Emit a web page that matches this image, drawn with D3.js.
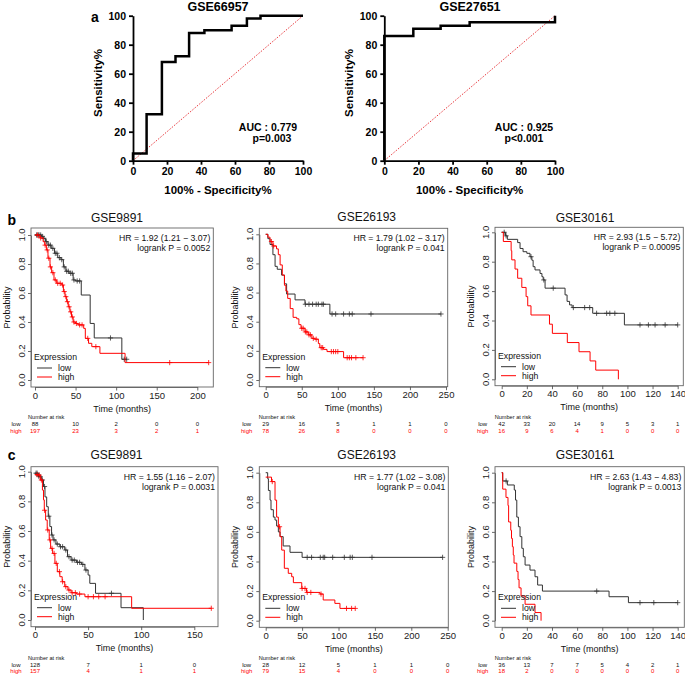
<!DOCTYPE html>
<html><head><meta charset="utf-8">
<script src="https://cdn.jsdelivr.net/npm/d3@7"></script>
<style>body{margin:0;background:#fff;} svg{display:block;font-family:"Liberation Sans",Arial,sans-serif;}</style>
</head><body><svg id="c" width="685" height="675"></svg>
<script>
// ---------------- DATA ----------------
const rocTitles = ["GSE66957", "GSE27651"];
const rocTicks = [0, 20, 40, 60, 80, 100];
const roc1FPR = [0, 0, 8, 8, 17, 17, 25, 25, 33, 33, 42, 42, 58, 58, 67, 67, 75, 75, 100];
const roc1TPR = [0, 5, 5, 32, 32, 68, 68, 72, 72, 88, 88, 90, 90, 93, 93, 98, 98, 100, 100];
const roc2FPR = [0, 0, 17, 17, 33, 33, 50, 50, 100, 100];
const roc2TPR = [0, 86, 86, 91, 91, 93, 93, 95.5, 95.5, 100];
const rocAUC = ["AUC : 0.779", "AUC : 0.925"];
const rocP = ["p=0.003", "p<0.001"];

const kmTitles = ["GSE9891", "GSE26193", "GSE30161", "GSE9891", "GSE26193", "GSE30161"];
const kmHR = ["HR = 1.92 (1.21 \u2212 3.07)", "HR = 1.79 (1.02 \u2212 3.17)", "HR = 2.93 (1.5 \u2212 5.72)",
              "HR = 1.55 (1.16 \u2212 2.07)", "HR = 1.77 (1.02 \u2212 3.08)", "HR = 2.63 (1.43 \u2212 4.83)"];
const kmP = ["logrank P = 0.0052", "logrank P = 0.041", "logrank P = 0.00095",
             "logrank P = 0.0031", "logrank P = 0.041", "logrank P = 0.0013"];
const probTicks = [0, 0.2, 0.4, 0.6, 0.8, 1.0];
const timeTicks250 = [0, 50, 100, 150, 200, 250];
const timeTicks200 = [0, 50, 100, 150, 200];
const timeTicks150 = [0, 50, 100, 150];
const timeTicks140 = [0, 20, 40, 60, 80, 100, 120, 140];
const groups = ["low", "high"];

// b: GSE9891
const b1LowT = [0, 8, 10, 13, 16, 20, 24, 28, 32, 35, 38, 42, 47, 50, 57, 68, 73, 107];
const b1LowS = [1, 0.99, 0.977, 0.954, 0.93, 0.908, 0.874, 0.844, 0.83, 0.78, 0.75, 0.736, 0.69, 0.683, 0.586, 0.39, 0.29, 0.143];
const b1LowC = [2, 4, 5, 7, 9, 11, 14, 17, 19, 22, 25, 27, 30, 33, 36, 39, 41, 44, 46, 48, 52, 55, 93, 110, 113];
const b1HighT = [0, 6, 10, 12, 14, 16, 18.5, 20.5, 23.4, 26.7, 33, 35, 37, 39, 41, 43, 45, 47, 50, 53, 60, 62, 66, 70, 80, 111];
const b1HighS = [1, 0.98, 0.954, 0.93, 0.897, 0.84, 0.78, 0.74, 0.69, 0.667, 0.655, 0.61, 0.575, 0.54, 0.505, 0.47, 0.435, 0.40, 0.39, 0.38, 0.356, 0.287, 0.253, 0.23, 0.184, 0.12];
const b1HighC = [3, 7, 12.5, 15, 17, 19, 22, 25, 28, 31, 34, 36, 38, 40, 42, 44, 46, 48, 51, 55, 58, 65, 75, 166, 214];
const b1RiskLow = [88, 10, 2, 0, 0];
const b1RiskHigh = [197, 23, 3, 2, 1];

// b: GSE26193
const b2LowT = [0, 3, 6, 10, 13, 16, 22, 26, 29, 40.7, 54.5, 89];
const b2LowS = [1, 0.97, 0.93, 0.86, 0.78, 0.76, 0.72, 0.66, 0.59, 0.55, 0.52, 0.453];
const b2LowC = [55, 60, 65, 70, 73, 78, 80, 92, 97, 108, 116, 120, 146, 243];
const b2HighT = [0, 3, 6, 10, 15, 17.5, 20, 23, 26, 28, 30.5, 34, 38, 43, 46, 49, 54.5, 59, 64, 68, 73, 75, 80, 85, 108];
const b2HighS = [1, 0.98, 0.95, 0.92, 0.9, 0.86, 0.79, 0.72, 0.65, 0.61, 0.56, 0.49, 0.43, 0.42, 0.38, 0.355, 0.33, 0.31, 0.286, 0.28, 0.25, 0.222, 0.21, 0.195, 0.153];
const b2HighC = [8, 11, 50, 52, 55, 57, 60, 62, 66, 70, 77, 79, 91, 94, 97, 100, 113, 116, 119, 125, 135];
const b2RiskLow = [29, 16, 5, 1, 1, 0];
const b2RiskHigh = [78, 26, 8, 0, 0, 0];

// b: GSE30161
const b3LowT = [0, 3, 4.5, 12.7, 14.6, 17, 20, 22.5, 24, 25, 26.5, 30.5, 32, 33, 34.5, 50.4, 52, 54, 56, 72.4, 97.6];
const b3LowS = [1, 0.976, 0.952, 0.93, 0.89, 0.868, 0.857, 0.834, 0.81, 0.766, 0.744, 0.72, 0.698, 0.676, 0.62, 0.574, 0.53, 0.506, 0.488, 0.449, 0.37];
const b3LowC = [2, 3.5, 23.3, 33.5, 41, 57, 66, 70, 75.5, 83.5, 86, 90, 110, 116.7, 122, 130, 140];
const b3HighT = [0, 1.3, 7.5, 8, 10.6, 12.7, 16, 19.4, 20.7, 23.3, 38, 40.3, 52.2, 61.5, 70.3, 74.8, 92.8];
const b3HighS = [1, 0.9375, 0.875, 0.8125, 0.75, 0.6875, 0.625, 0.5625, 0.5, 0.4375, 0.375, 0.3125, 0.25, 0.1875, 0.125, 0.0625, 0];
const b3HighC = [];
const b3RiskLow = [42, 33, 20, 14, 9, 5, 3, 1];
const b3RiskHigh = [16, 9, 6, 4, 1, 0, 0, 0];

// c: GSE9891
const c1LowT = [0, 3, 4.7, 6, 8, 9.4, 11, 12.5, 14, 15.6, 17, 19.7, 23.4, 28, 30.6, 34, 39, 43.7, 47, 50, 51.6, 57, 81, 102];
const c1LowS = [0.99, 0.97, 0.966, 0.944, 0.9, 0.83, 0.764, 0.7, 0.63, 0.573, 0.54, 0.512, 0.494, 0.472, 0.427, 0.404, 0.389, 0.375, 0.337, 0.303, 0.247, 0.18, 0.083, 0];
const c1LowC = [1, 2, 3.5, 5, 7, 9, 13, 16, 18, 21, 24, 26, 29, 32, 35, 37, 40, 42, 45, 48, 72];
const c1HighT = [0, 3, 5, 7, 8, 8.75, 10, 11.5, 13.4, 14.7, 16.6, 18.75, 21, 23.4, 25.6, 28, 31, 34, 39, 47, 91];
const c1HighS = [0.98, 0.977, 0.944, 0.876, 0.81, 0.74, 0.674, 0.607, 0.54, 0.483, 0.449, 0.382, 0.326, 0.292, 0.258, 0.225, 0.202, 0.184, 0.175, 0.157, 0.079];
const c1HighC = [2, 4, 6, 9, 12, 14, 16, 18, 20, 23, 26, 29, 32, 35, 38, 42, 50, 55, 60, 66, 166];
const c1RiskLow = [128, 7, 1, 0];
const c1RiskHigh = [157, 4, 1, 1];

// c: GSE26193
const c2LowT = [0, 2.7, 3.7, 6, 7.3, 10.5, 12.8, 15, 17.4, 19.7, 24, 33.4, 50];
const c2LowS = [1, 0.96, 0.88, 0.815, 0.75, 0.70, 0.68, 0.64, 0.60, 0.568, 0.505, 0.462, 0.428];
const c2LowC = [57, 63, 75, 79, 81, 92, 108, 116, 119, 146, 243];
const c2HighT = [0, 8, 12.8, 15, 17.4, 19.7, 22, 25.6, 31, 35.7, 38, 49.5, 56, 74.6, 79, 95, 102];
const c2HighS = [0.97, 0.94, 0.815, 0.70, 0.635, 0.568, 0.477, 0.354, 0.32, 0.297, 0.257, 0.218, 0.191, 0.18, 0.14, 0.117, 0.083];
const c2HighC = [9, 19, 50, 54, 57, 62, 76, 111, 118, 123];
const c2RiskLow = [28, 12, 5, 1, 1, 0];
const c2RiskHigh = [79, 15, 4, 0, 0, 0];

// c: GSE30161
const c3LowT = [0, 0.8, 4.5, 10, 11, 12, 13.3, 14.6, 16, 17.2, 18.6, 22.5, 26.5, 28.6, 32.4, 85.4, 100.8];
const c3LowS = [1, 0.944, 0.917, 0.883, 0.815, 0.70, 0.635, 0.568, 0.489, 0.432, 0.376, 0.342, 0.297, 0.241, 0.2, 0.162, 0.122];
const c3LowC = [3.5, 75.6, 110, 121, 140];
const c3HighT = [0, 0.8, 3.4, 5, 5.5, 7.2, 7.8, 8.5, 9.2, 9.8, 12, 13, 13.8, 15.4, 18.6, 26.5, 31.3];
const c3HighS = [1, 0.889, 0.833, 0.778, 0.667, 0.611, 0.556, 0.5, 0.444, 0.389, 0.333, 0.278, 0.222, 0.167, 0.111, 0.055, 0];
const c3HighC = [];
const c3RiskLow = [36, 13, 7, 7, 5, 4, 2, 1];
const c3RiskHigh = [18, 2, 0, 0, 0, 0, 0, 0];

// ---------------- LAYOUT ----------------
const svg = d3.select("#c");
const COL_LOW = "#333", COL_HIGH = "#ff0000";

const rocLayout = [
  {x0: 133, x1: 303, y0: 160.7, y1: 15.7, titleX: 218, aucX: 268, pX: 272},
  {x0: 384.3, x1: 555, y0: 160.7, y1: 15.7, titleX: 470, aucX: 524, pX: 524}
];
const rocData = [[roc1FPR, roc1TPR], [roc2FPR, roc2TPR]];

rocLayout.forEach((L, i) => {
  const g = svg.append("g");
  const x = d3.scaleLinear().domain([0, 100]).range([L.x0, L.x1]);
  const y = d3.scaleLinear().domain([0, 100]).range([L.y0, L.y1]);
  // diagonal
  g.append("line").attr("x1", x(0)).attr("y1", y(0)).attr("x2", x(100)).attr("y2", y(100))
    .attr("stroke", "#e8383d").attr("stroke-width", 1).attr("stroke-dasharray", "1.5,1.5");
  // axes
  const ax = g.append("g").attr("transform", `translate(0,${L.y0})`)
    .call(d3.axisBottom(x).tickValues(rocTicks).tickSize(4).tickSizeOuter(0).tickPadding(3));
  const ay = g.append("g").attr("transform", `translate(${L.x0},0)`)
    .call(d3.axisLeft(y).tickValues(rocTicks).tickSize(4).tickSizeOuter(0).tickPadding(3));
  [ax, ay].forEach(a => {
    a.selectAll("path,line").attr("stroke", "#000").attr("stroke-width", 1.8);
    a.selectAll("text").attr("font-size", 10.5).attr("font-weight", "bold").attr("fill", "#000")
      .attr("font-family", "'Liberation Sans',Arial,sans-serif");
  });
  // curve
  const pts = rocData[i][0].map((v, k) => [v, rocData[i][1][k]]);
  g.append("path").attr("d", d3.line().x(d => x(d[0])).y(d => y(d[1]))(pts))
    .attr("fill", "none").attr("stroke", "#000").attr("stroke-width", 2.5).attr("stroke-linejoin", "miter");
  // title & labels
  g.append("text").attr("x", L.titleX).attr("y", 10.5).attr("text-anchor", "middle")
    .attr("font-size", 12.5).attr("font-weight", "bold").text(rocTitles[i]);
  g.append("text").attr("x", (L.x0 + L.x1) / 2).attr("y", 194).attr("text-anchor", "middle")
    .attr("font-size", 11.5).attr("font-weight", "bold").text("100% - Specificity%");
  g.append("text").attr("transform", `translate(${L.x0 - 31},83) rotate(-90)`).attr("text-anchor", "middle")
    .attr("font-size", 11.5).attr("font-weight", "bold").text("Sensitivity%");
  g.append("text").attr("x", L.aucX).attr("y", 130.5).attr("text-anchor", "middle")
    .attr("font-size", 10.5).attr("font-weight", "bold").text(rocAUC[i]);
  g.append("text").attr("x", L.pX).attr("y", 142).attr("text-anchor", "middle")
    .attr("font-size", 10.5).attr("font-weight", "bold").text(rocP[i]);
});
svg.append("text").attr("x", 95).attr("y", 22).attr("text-anchor", "middle")
  .attr("font-size", 14).attr("font-weight", "bold").text("a");
svg.append("text").attr("x", 11.7).attr("y", 225).attr("text-anchor", "middle")
  .attr("font-size", 14).attr("font-weight", "bold").text("b");
svg.append("text").attr("x", 11.7).attr("y", 460).attr("text-anchor", "middle")
  .attr("font-size", 14).attr("font-weight", "bold").text("c");

const kmLayout = [
  {box: [31, 213.3, 228, 387], x0: 35, x1: 197.3, y0: 380, y1: 235, tX: 117, tY: 218, risk: [416.5, 423.5, 431]},
  {box: [259.3, 447.7, 228.3, 386.7], x0: 265.7, x1: 446, y0: 380, y1: 234.3, tX: 366.7, tY: 217, risk: [416.5, 423.5, 431]},
  {box: [495, 683.3, 227.3, 385.7], x0: 501.7, x1: 677.7, y0: 379.3, y1: 232.3, tX: 585, tY: 218, risk: [416.5, 423.5, 431]},
  {box: [31, 218, 466.7, 626.7], x0: 35, x1: 194.3, y0: 620, y1: 471.7, tX: 116.5, tY: 455, risk: [657.5, 664.5, 671]},
  {box: [259.3, 448.3, 466.7, 627.3], x0: 265.7, x1: 447.7, y0: 620.7, y1: 472.7, tX: 366.7, tY: 455, risk: [657.5, 664.5, 671]},
  {box: [495, 684.3, 466.7, 627.3], x0: 501.7, x1: 677.7, y0: 620.7, y1: 472.7, tX: 585, tY: 455, risk: [657.5, 664.5, 671]}
];
const kmData = [
  {ticks: timeTicks200, low: [b1LowT, b1LowS, b1LowC], high: [b1HighT, b1HighS, b1HighC], risk: [b1RiskLow, b1RiskHigh]},
  {ticks: timeTicks250, low: [b2LowT, b2LowS, b2LowC], high: [b2HighT, b2HighS, b2HighC], risk: [b2RiskLow, b2RiskHigh]},
  {ticks: timeTicks140, low: [b3LowT, b3LowS, b3LowC], high: [b3HighT, b3HighS, b3HighC], risk: [b3RiskLow, b3RiskHigh]},
  {ticks: timeTicks150, low: [c1LowT, c1LowS, c1LowC], high: [c1HighT, c1HighS, c1HighC], risk: [c1RiskLow, c1RiskHigh]},
  {ticks: timeTicks250, low: [c2LowT, c2LowS, c2LowC], high: [c2HighT, c2HighS, c2HighC], risk: [c2RiskLow, c2RiskHigh]},
  {ticks: timeTicks140, low: [c3LowT, c3LowS, c3LowC], high: [c3HighT, c3HighS, c3HighC], risk: [c3RiskLow, c3RiskHigh]}
];

function survAt(T, S, t) {
  let s = S[0];
  for (let i = 0; i < T.length; i++) if (T[i] <= t) s = S[i];
  return s;
}

kmLayout.forEach((L, i) => {
  const D = kmData[i];
  const g = svg.append("g");
  const tMax = D.ticks[D.ticks.length - 1];
  const x = d3.scaleLinear().domain([0, tMax]).range([L.x0, L.x1]);
  const y = d3.scaleLinear().domain([0, 1]).range([L.y0, L.y1]);
  const [bl, br, bt, bb] = L.box;
  // x axis
  const ax = g.append("g").attr("transform", `translate(0,${bb})`)
    .call(d3.axisBottom(x).tickValues(D.ticks).tickSize(3.5).tickSizeOuter(0).tickPadding(1.5).tickFormat(d3.format("d")));
  ax.selectAll("path,line").attr("stroke", "#444").attr("stroke-width", 0.8);
  ax.selectAll("text").attr("font-size", 9.5).attr("fill", "#222").attr("font-family", "'Liberation Sans',Arial,sans-serif");
  // y axis
  const ay = g.append("g").attr("transform", `translate(${bl},0)`)
    .call(d3.axisLeft(y).tickValues(probTicks).tickSize(3).tickSizeOuter(0).tickFormat(""));
  ay.selectAll("path,line").attr("stroke", "#444").attr("stroke-width", 0.8);
  probTicks.forEach(v => {
    g.append("text").attr("transform", `translate(${bl - 6},${y(v)}) rotate(-90)`)
      .attr("text-anchor", "middle").attr("font-size", 9.5).attr("fill", "#222").text(d3.format(".1f")(v));
  });
  // box
  g.append("rect").attr("x", bl).attr("y", bt).attr("width", br - bl).attr("height", bb - bt)
    .attr("fill", "none").attr("stroke", "#666").attr("stroke-width", 0.9);
  // curves
  const line = d3.line().curve(d3.curveStepAfter).x(d => x(d[0])).y(d => y(d[1]));
  [["low", COL_LOW], ["high", COL_HIGH]].forEach(([k, col]) => {
    const [T, S, C] = D[k];
    const end = Math.max(T[T.length - 1], C.length ? C[C.length - 1] : 0);
    const pts = T.map((t, j) => [t, S[j]]);
    pts.push([end, S[S.length - 1]]);
    g.append("path").attr("d", line(pts)).attr("fill", "none").attr("stroke", col).attr("stroke-width", 1);
    C.forEach(t => {
      const cx = x(t), cy = y(survAt(T, S, t));
      g.append("path").attr("d", `M${cx},${cy - 2.6}V${cy + 2.6}M${cx - 2.6},${cy}H${cx + 2.6}`)
        .attr("stroke", col).attr("stroke-width", 0.8);
    });
  });
  // title
  g.append("text").attr("x", L.tX).attr("y", L.tY + 4.3).attr("text-anchor", "middle")
    .attr("font-size", 12).attr("fill", "#111").text(kmTitles[i]);
  // HR text
  g.append("text").attr("x", br - 3).attr("y", bt + 13).attr("text-anchor", "end")
    .attr("font-size", 8.7).attr("fill", "#111").text(kmHR[i]);
  g.append("text").attr("x", br - 3).attr("y", bt + 23).attr("text-anchor", "end")
    .attr("font-size", 8.7).attr("fill", "#111").text(kmP[i]);
  // legend
  g.append("text").attr("x", bl + 3).attr("y", bb - 27).attr("font-size", 8.7).attr("fill", "#111").text("Expression");
  [["low", COL_LOW, 19], ["high", COL_HIGH, 10]].forEach(([lab, col, off]) => {
    g.append("line").attr("x1", bl + 6).attr("x2", bl + 21).attr("y1", bb - off).attr("y2", bb - off)
      .attr("stroke", col).attr("stroke-width", 1);
    g.append("text").attr("x", bl + 27).attr("y", bb - off + 3).attr("font-size", 8.7).attr("fill", "#111").text(lab);
  });
  // axis titles
  g.append("text").attr("x", (bl + br) / 2).attr("y", bb + 24.5).attr("text-anchor", "middle")
    .attr("font-size", 9).attr("fill", "#111").text("Time (months)");
  g.append("text").attr("transform", `translate(${bl - 21},${(bt + bb) / 2}) rotate(-90)`)
    .attr("text-anchor", "middle").attr("font-size", 9).attr("fill", "#111").text("Probability");
  // number at risk
  g.append("text").attr("x", x(0) - 7).attr("y", L.risk[0] + 2).attr("font-size", 5.6).attr("fill", "#111").text("Number at risk");
  groups.forEach((grp, r) => {
    const col = r === 0 ? "#111" : COL_HIGH;
    g.append("text").attr("x", x(0) - 19).attr("y", L.risk[r + 1] + 2).attr("text-anchor", "middle")
      .attr("font-size", 6).attr("fill", col).text(grp);
    D.risk[r].forEach((v, j) => {
      g.append("text").attr("x", x(D.ticks[j])).attr("y", L.risk[r + 1] + 2).attr("text-anchor", "middle")
        .attr("font-size", 6).attr("fill", col).text(v);
    });
  });
});
</script></body></html>
